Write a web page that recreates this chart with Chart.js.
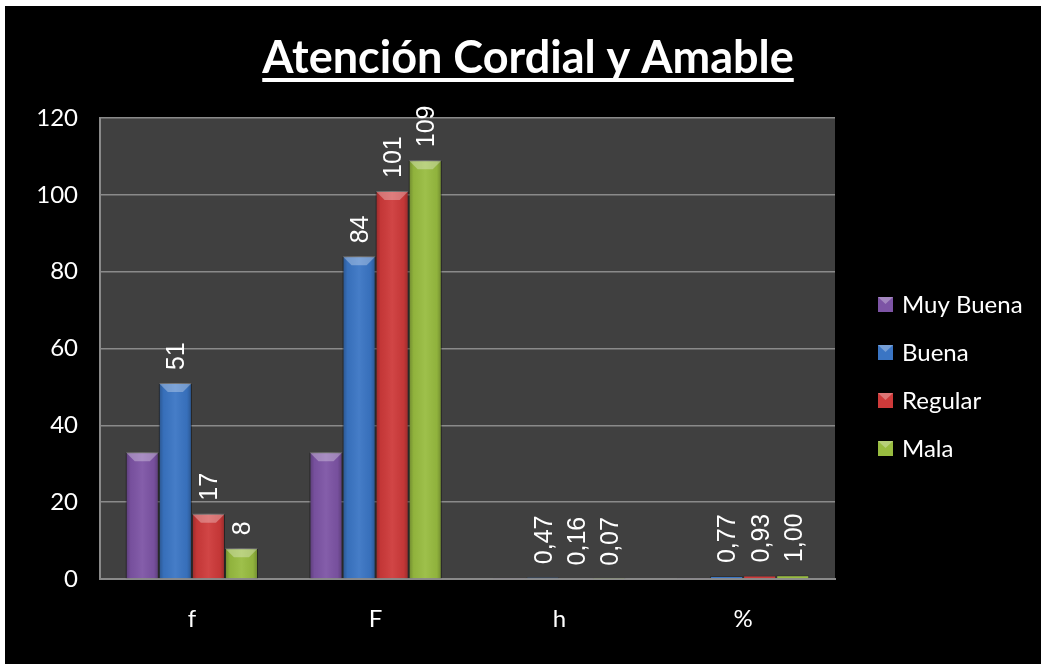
<!DOCTYPE html>
<html>
<head>
<meta charset="utf-8">
<script src="https://cdn.jsdelivr.net/npm/chart.js@4"></script>
<style>
  body { margin: 0; background: #fff; }
  #wrap { position: absolute; left: 5px; top: 6px; width: 1036px; height: 658px; background: #000; }
</style>
</head>
<body>
<div id="wrap"><canvas id="chart" width="1036" height="658"></canvas></div>
<script>
// categories on the x axis
const categories = ["f", "F", "h", "%"];
// series values
const muyBuena = [33, 33, 0.30, 0.30];
const buena = [51, 84, 0.47, 0.77];
const regular = [17, 101, 0.16, 0.93];
const mala = [8, 109, 0.07, 1.00];
// y axis ticks
const yMin = 0, yMax = 120, yStep = 20;
const chartTitle = "Atención Cordial y Amable";

const seriesNames = ["Muy Buena", "Buena", "Regular", "Mala"];
const seriesColors = ["rgb(125,84,165)", "rgb(58,117,196)", "rgb(206,58,58)", "rgb(152,188,64)"];
// muy buena has no value labels in the original
const showLabels = [false, true, true, true];

const FONT = "Lato, 'Open Sans', sans-serif";

// fills the plot area grey and draws the title + legend by hand
const decor = {
  id: "decor",
  beforeDraw(chart) {
    const c = chart.ctx, a = chart.chartArea;
    c.save();
    c.fillStyle = "#404040";
    c.fillRect(a.left, a.top, a.right - a.left, a.bottom - a.top);
    c.restore();
  },
  afterDraw(chart) {
    const c = chart.ctx;
    c.save();
    // title, underlined
    c.fillStyle = "#fff";
    c.font = "bold 45px " + FONT;
    c.textAlign = "center";
    c.textBaseline = "alphabetic";
    const tx = 523, ty = 67;
    c.fillText(chartTitle, tx, ty);
    const w = c.measureText(chartTitle).width;
    c.fillRect(tx - w / 2, ty + 5, w, 4);

    // legend
    c.font = "24px " + FONT;
    c.textAlign = "left";
    c.textBaseline = "middle";
    chart.data.datasets.forEach((ds, i) => {
      const y = 299 + i * 48;
      c.fillStyle = ds.backgroundColor;
      c.fillRect(873, y - 8, 15, 15);
      c.fillStyle = "rgba(255,255,255,0.3)";
      c.beginPath();
      c.moveTo(873, y - 8); c.lineTo(888, y - 8); c.lineTo(880.5, y - 1); c.closePath();
      c.fill();
      c.fillStyle = "#fff";
      c.fillText(ds.label, 897, y);
    });
    c.restore();
  },
  afterDatasetsDraw(chart) {
    const c = chart.ctx;
    c.save();
    // shading over each bar for the bevelled look (skip the tiny ones)
    chart.data.datasets.forEach((ds, i) => {
      chart.getDatasetMeta(i).data.forEach(bar => {
        const l = bar.x - bar.width / 2, r = bar.x + bar.width / 2;
        const h = bar.base - bar.y;
        if (h < 5) return;
        const g = c.createLinearGradient(l, 0, r, 0);
        g.addColorStop(0, "rgba(0,0,0,0.28)");
        g.addColorStop(0.15, "rgba(0,0,0,0.05)");
        g.addColorStop(0.5, "rgba(255,255,255,0.06)");
        g.addColorStop(0.85, "rgba(0,0,0,0.05)");
        g.addColorStop(1, "rgba(0,0,0,0.28)");
        c.fillStyle = g;
        c.fillRect(l, bar.y, r - l, h);
        const bh = Math.min(9, h);
        c.fillStyle = "rgba(255,255,255,0.3)";
        c.beginPath();
        c.moveTo(l, bar.y); c.lineTo(r, bar.y);
        c.lineTo(r - bh, bar.y + bh); c.lineTo(l + bh, bar.y + bh);
        c.closePath();
        c.fill();
      });
    });

    c.fillStyle = "#fff";
    c.font = "25px 'Liberation Sans', Arial, sans-serif";
    c.textAlign = "left";
    c.textBaseline = "middle";
    chart.data.datasets.forEach((ds, i) => {
      if (!showLabels[i]) return;
      chart.getDatasetMeta(i).data.forEach((bar, j) => {
        const v = ds.data[j];
        const txt = v < 2 ? v.toFixed(2).replace(".", ",") : String(v);
        c.save();
        c.translate(bar.x + 2, bar.y - 13);
        c.rotate(-Math.PI / 2);
        c.fillText(txt, 0, 0);
        c.restore();
      });
    });
    c.restore();
  }
};

const series = [muyBuena, buena, regular, mala];

new Chart(document.getElementById("chart"), {
  type: "bar",
  data: {
    labels: categories,
    datasets: series.map((d, i) => ({
      label: seriesNames[i],
      data: d,
      backgroundColor: seriesColors[i],
      borderColor: "rgba(0,0,0,0.25)",
      borderWidth: 1,
      categoryPercentage: 0.72,
      barPercentage: 1.0
    }))
  },
  options: {
    responsive: false,
    animation: false,
    layout: { padding: { left: 5, right: 206, top: 112, bottom: 25 } },
    plugins: { legend: { display: false }, title: { display: false }, tooltip: { enabled: false } },
    scales: {
      x: {
        grid: { display: false, drawTicks: false },
        border: { color: "#8a8a8a", width: 2 },
        ticks: { color: "#fff", font: { family: FONT, size: 24 }, padding: 26 },
        afterFit: s => { s.height = 60; }
      },
      y: {
        min: yMin, max: yMax,
        grid: { color: "#8a8a8a", lineWidth: 1.5, drawTicks: false },
        border: { color: "#8a8a8a", width: 2 },
        ticks: { color: "#fff", stepSize: yStep, font: { family: FONT, size: 24 }, padding: 22 },
        afterFit: s => { s.width = 90; }
      }
    }
  },
  plugins: [decor]
});
</script>
</body>
</html>
